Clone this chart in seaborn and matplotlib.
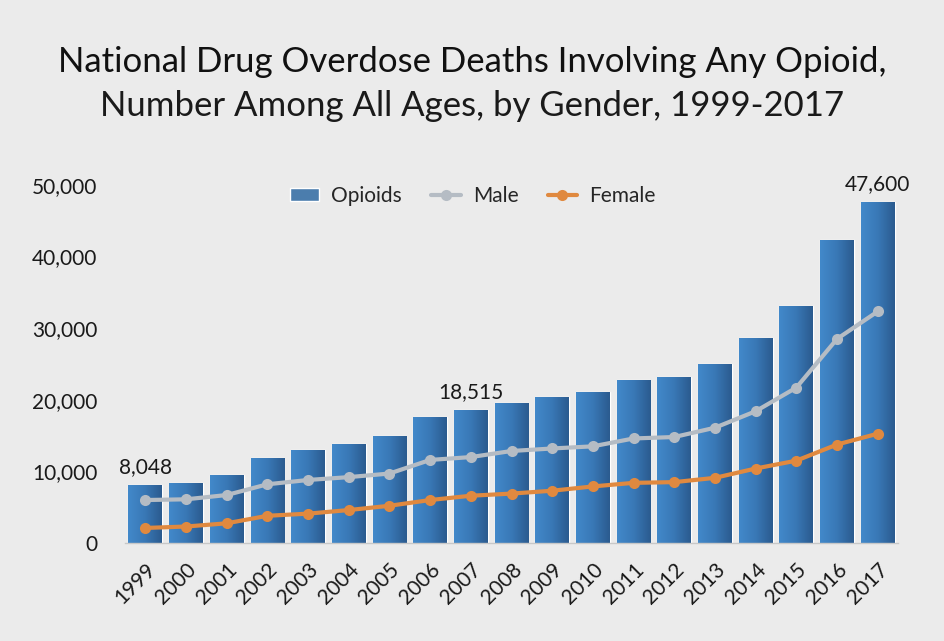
import numpy as np
import pandas as pd
import matplotlib
matplotlib.use("Agg")
import matplotlib.pyplot as plt
from matplotlib.colors import LinearSegmentedColormap
import seaborn as sns

years = [str(y) for y in range(1999, 2018)]
opioids = [8048, 8407, 9496, 11920, 12940, 13756, 14918, 17545, 18515, 19582,
           20422, 21089, 22784, 23166, 25052, 28647, 33091, 42249, 47600]
male = [6000, 6100, 6700, 8200, 8800, 9200, 9700, 11600, 12000, 12850,
        13200, 13500, 14600, 14800, 16100, 18400, 21700, 28500, 32337]
female = [2100, 2300, 2750, 3800, 4100, 4600, 5200, 6000, 6600, 6900,
          7300, 7900, 8400, 8500, 9100, 10400, 11500, 13751, 15263]
labelled = {"1999": "8,048", "2007": "18,515", "2017": "47,600"}

bg = "#ebebeb"
sns.set_theme(style="white")
plt.rcParams["font.family"] = ["Lato", "DejaVu Sans"]

df = pd.DataFrame({"Year": years, "Opioids": opioids, "Male": male, "Female": female})

fig = plt.figure(figsize=(9.44, 6.41), dpi=100, facecolor=bg)
ax = fig.add_axes([0.1324, 0.1529, 0.8189, 0.5585])
ax.set_facecolor(bg)

sns.barplot(x="Year", y="Opioids", data=df, color="#3b7dbd", width=0.83,
            ax=ax, label="Opioids", zorder=2)

# horizontal gradient on each bar
cmap = LinearSegmentedColormap.from_list("bar", ["#4289ca", "#3978b6", "#2b5b8f"])
grad = np.linspace(0, 1, 64).reshape(1, -1)
for p in list(ax.patches):
    x0, w, h = p.get_x(), p.get_width(), p.get_height()
    im = ax.imshow(grad, extent=[x0, x0 + w, 0, h], cmap=cmap, aspect="auto",
                   zorder=2, interpolation="bicubic")
    im.set_clip_path(p)

idx = np.arange(len(years))
sns.lineplot(x=idx, y=df["Male"], ax=ax, color="#b5bcc4", lw=3, marker="o",
             markersize=8, markeredgewidth=0, label="Male", zorder=3)
sns.lineplot(x=idx, y=df["Female"], ax=ax, color="#e0893f", lw=3, marker="o",
             markersize=8, markeredgewidth=0, label="Female", zorder=3)

for i, y in enumerate(years):
    if y in labelled:
        ax.annotate(labelled[y], (i, opioids[i]), xytext=(0, 6),
                    textcoords="offset points", ha="center", va="bottom",
                    fontsize=15, color="#1a1a1a")

ax.set_xlim(-0.5, len(years) - 0.5)
ax.set_ylim(0, 50000)
ax.set_yticks(range(0, 50001, 10000))
ax.set_yticklabels([f"{v:,}" for v in range(0, 50001, 10000)], fontsize=15, color="#1a1a1a")
ax.set_xticks(idx)
ax.set_xticklabels(years, rotation=45, ha="right", va="top", rotation_mode="anchor",
                   fontsize=15, color="#1a1a1a")
ax.tick_params(axis="x", length=0, pad=12)
ax.tick_params(axis="y", length=0, pad=20)
ax.set_xticks(np.arange(-0.5, len(years), 1), minor=True)
ax.tick_params(axis="x", which="minor", length=7, color="#c8c8c8", width=1)
ax.set_xlabel("")
ax.set_ylabel("")

for s in ["top", "right", "left"]:
    ax.spines[s].set_visible(False)
ax.spines["bottom"].set_color("#c8c8c8")
ax.spines["bottom"].set_linewidth(1)

handles, labels = ax.get_legend_handles_labels()
order = [labels.index(n) for n in ["Opioids", "Male", "Female"]]
ax.legend([handles[i] for i in order], [labels[i] for i in order],
          loc="upper center", bbox_to_anchor=(0.45, 1.05), ncol=3, frameon=False,
          fontsize=15, handlelength=1.4, handleheight=0.6, columnspacing=1.4,
          handletextpad=0.6)

fig.text(0.5, 0.903, "National Drug Overdose Deaths Involving Any Opioid,",
         ha="center", va="center", fontsize=25, color="#111111")
fig.text(0.5, 0.835, "Number Among All Ages, by Gender, 1999-2017",
         ha="center", va="center", fontsize=25, color="#1a1a1a")

fig.savefig("out.png", dpi=100, facecolor=bg)
